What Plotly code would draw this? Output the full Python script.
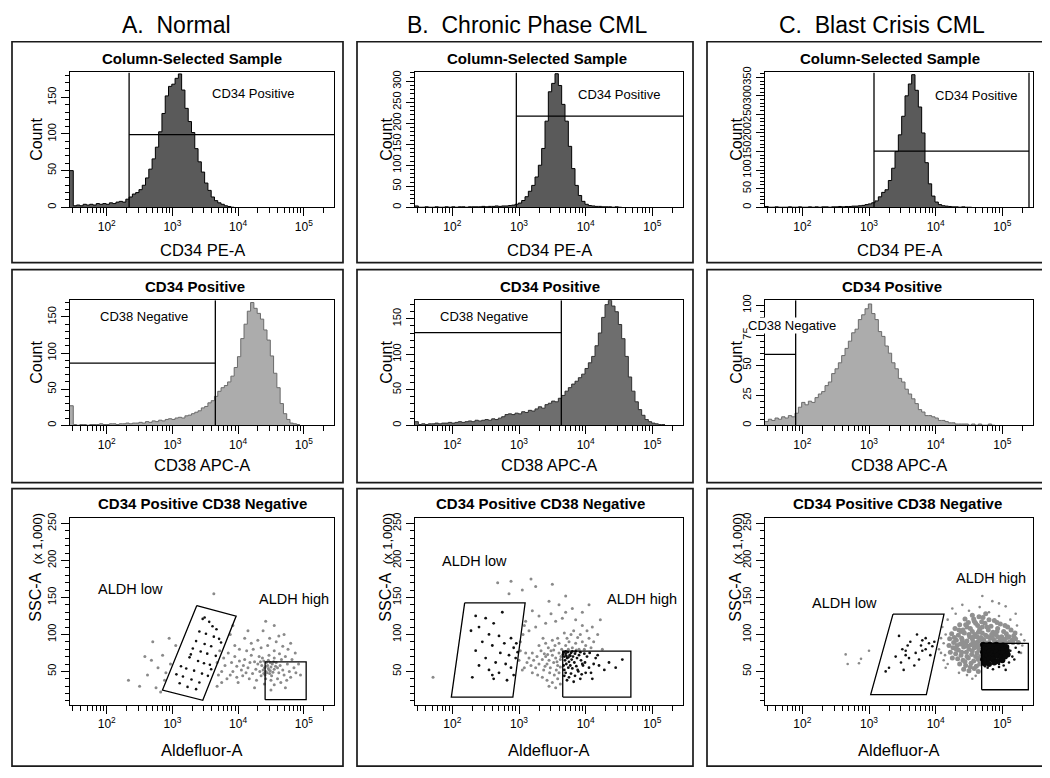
import plotly.graph_objects as go

# page is 1050x778; the html body has an 8px margin, so the figure is drawn 8px in
PAGE_OFF = 8
FIG_W, FIG_H = 1042, 770
FONT = "Liberation Sans, Arial, sans-serif"

# ---------------- histogram data (counts per channel) ----------------
HIST_START = 1.44      # log10 left edge of first channel
HIST_STEP = 0.05       # channel width in decades

a1_counts = [50, 2, 3, 2, 4, 3, 4, 3, 5, 4, 5, 4, 6, 5, 7, 8, 7, 11, 14, 18,
             20, 24, 30, 40, 52, 66, 82, 103, 128, 152, 165, 168, 176, 182, 160, 135, 117, 102, 80, 62,
             48, 33, 23, 14, 9, 6, 4, 2, 1, 0]
b1_counts = [3, 0, 0, 1, 0, 0, 1, 0, 0, 1, 0, 1, 0, 1, 1, 0, 1, 1, 1, 1, 2, 1, 2, 2, 3, 2, 3, 3,
             4, 5, 7, 10, 16, 25, 38, 52, 72, 100, 140, 205, 275, 295, 318, 290, 245, 205, 145, 92,
             52, 28, 14, 7, 4, 3, 2, 2, 1, 1, 1, 0, 1, 0]
c1_counts = [2, 0, 0, 1, 0, 0, 0, 1, 0, 0, 1, 0, 0, 1, 0, 1, 0, 1, 1, 0, 1, 1, 2, 1, 2, 2, 3, 3,
             4, 5, 7, 9, 12, 17, 28, 40, 47, 72, 105, 150, 195, 245, 300, 332, 357, 315, 270, 200,
             120, 63, 30, 14, 7, 4, 3, 2, 1, 1, 0, 1, 0, 0]
a2_counts = [27, 1, 0, 1, 1, 0, 1, 1, 1, 2, 1, 1, 2, 2, 1, 2, 2, 3, 2, 3,
             3, 4, 3, 5, 4, 6, 5, 7, 6, 8, 9, 8, 10, 11, 10, 13, 14, 16, 18, 20,
             24, 26, 31, 34, 40, 47, 52, 55, 60, 68, 80, 95, 120, 140, 158, 170, 162, 155, 147, 132,
             118, 96, 72, 52, 30, 16, 8, 3, 2, 1]
b2_counts = [5, 1, 2, 1, 2, 2, 3, 2, 3, 3, 4, 3, 4, 5, 4, 5, 6, 5, 7, 6,
             7, 8, 7, 9, 8, 10, 12, 15, 16, 15, 17, 16, 19, 18, 21, 20, 23, 26, 24, 29,
             31, 34, 33, 38, 42, 48, 53, 58, 62, 67, 72, 80, 88, 97, 112, 130, 152, 170, 176, 168,
             160, 142, 122, 97, 68, 48, 33, 22, 14, 8, 5, 3, 2, 1, 1]
c2_counts = [3, 5, 4, 6, 5, 7, 6, 8, 7, 10, 15, 19, 17, 20, 19, 23, 26, 28, 33, 36,
             43, 47, 52, 58, 64, 70, 77, 80, 88, 92, 97, 101, 93, 88, 78, 74, 66, 60, 52, 47,
             39, 36, 30, 26, 22, 18, 13, 11, 8, 8, 7, 6, 4, 4, 3, 2, 2, 1, 1, 1,
             1, 0, 1, 0, 1, 0, 0, 1, 0]

# ---------------- gates (log10 fluorescence, value) ----------------
a1_gate = {"x": 2.34, "y": 99}
b1_gate = {"x": 2.96, "y": 217}
c1_gate = {"x": 3.075, "y": 151, "x_right": 5.40}
a2_gate = {"x": 3.653, "y": 86}
b2_gate = {"x": 3.635, "y": 130.6}
c2_gate = {"x": 1.90, "y": 59}

a3_low = [(3.371, 139), (3.970, 124.8), (3.462, 10.9), (2.848, 24.8)]
a3_high = [(4.411, 11.7), (5.036, 63)]
b3_low = [(2.185, 142.6), (3.092, 142.6), (2.908, 15.2), (1.985, 15.2)]
b3_high = [(3.656, 15.2), (4.678, 77.4)]
c3_low = [(3.36, 127.4), (4.125, 127.4), (3.86, 18.7), (3.025, 18.7)]
c3_high = [(4.69, 25.2), (5.39, 87.8)]

# ---------------- scatter data (log10 Aldefluor-A, SSC-A x1000) ----------------
a3_gray = [
    (4.40, 55), (4.42, 50), (4.45, 58), (4.47, 52), (4.50, 56), (4.43, 62), (4.48, 47), (4.52, 60), (4.38, 52), (4.55, 53),
    (4.41, 45), (4.46, 65), (4.44, 48), (4.49, 62), (4.36, 58), (4.53, 49), (4.57, 57), (4.39, 64), (4.51, 44), (4.46, 54),
    (4.33, 50), (4.60, 55), (4.35, 44), (4.58, 62), (4.62, 48), (4.30, 60), (4.64, 58), (4.37, 68), (4.55, 68), (4.42, 40),
    (4.27, 53), (4.68, 52), (4.25, 63), (4.70, 45), (4.47, 72), (4.32, 70), (4.60, 40), (4.22, 47), (4.66, 66), (4.50, 38),
    (4.15, 55), (4.18, 62), (4.12, 48), (4.10, 66), (4.20, 72), (4.08, 58), (4.05, 52), (4.02, 64), (3.98, 57), (3.95, 70),
    (4.13, 78), (4.23, 80), (4.35, 82), (4.45, 85), (4.55, 78), (4.63, 74), (4.72, 70), (4.75, 60), (4.78, 50), (4.80, 42),
    (4.74, 38), (4.65, 35), (4.55, 32), (4.40, 33), (4.28, 38), (4.17, 40), (4.07, 44), (3.92, 50), (3.90, 62), (3.88, 45),
    (4.85, 55), (4.82, 66), (4.88, 48), (4.92, 60), (4.30, 92), (4.48, 95), (4.58, 90), (4.68, 84), (4.20, 88), (4.02, 80),
    (3.85, 75), (3.80, 58), (3.78, 68), (3.83, 40), (3.75, 50), (3.95, 85), (4.10, 95), (4.38, 105), (4.55, 112), (4.70, 100),
    (4.62, 98), (4.80, 88), (4.87, 75), (4.95, 45), (4.72, 28), (4.50, 25), (4.25, 28), (4.00, 35), (3.72, 78), (3.68, 62),
    (4.15, 105), (4.42, 118), (3.98, 42), (3.70, 45), (4.76, 80), (4.43, 57), (4.49, 51), (4.39, 47), (4.54, 63), (4.34, 63),
    (2.33, 38), (2.50, 30), (2.62, 45), (2.70, 90), (2.78, 55), (2.85, 72), (2.88, 38), (2.97, 60), (2.90, 48), (3.05, 85),
    (2.58, 70), (2.75, 28), (2.82, 22), (3.63, 155), (3.88, 100), (3.75, 35), (3.92, 112), (3.68, 30), (2.95, 95), (2.68, 65)]
a3_black = [
    (3.46, 121), (3.56, 117), (3.61, 111), (3.41, 104), (3.51, 101), (3.63, 97), (3.71, 94), (3.36, 91), (3.49, 87), (3.59, 84),
    (3.31, 81), (3.43, 77), (3.53, 74), (3.66, 71), (3.26, 69), (3.39, 64), (3.48, 61), (3.57, 59), (3.21, 54), (3.33, 51),
    (3.45, 47), (3.54, 44), (3.16, 43), (3.29, 39), (3.41, 35), (3.11, 34), (3.23, 29), (3.36, 26), (3.06, 46), (3.13, 57),
    (3.49, 123), (3.67, 107), (3.74, 89), (3.28, 73), (3.59, 53)]

b3_gray = [
    (3.40, 70), (3.45, 65), (3.50, 72), (3.55, 68), (3.60, 75), (3.42, 60), (3.48, 78), (3.52, 62), (3.58, 58), (3.62, 66),
    (3.35, 66), (3.38, 74), (3.44, 82), (3.54, 85), (3.60, 88), (3.64, 80), (3.30, 60), (3.33, 78), (3.47, 55), (3.56, 52),
    (3.62, 56), (3.27, 70), (3.25, 55), (3.22, 65), (3.40, 88), (3.50, 92), (3.58, 95), (3.63, 70), (3.37, 52), (3.46, 48),
    (3.53, 45), (3.60, 48), (3.20, 75), (3.18, 58), (3.15, 68), (3.12, 62), (3.10, 75), (3.08, 55), (3.30, 85), (3.36, 95),
    (3.70, 85), (3.75, 90), (3.80, 82), (3.85, 88), (3.90, 80), (3.72, 95), (3.78, 100), (3.88, 96), (3.95, 90), (4.00, 85),
    (3.68, 102), (3.82, 105), (3.92, 100), (4.05, 95), (3.74, 80), (3.86, 79), (3.98, 80), (4.08, 82), (4.12, 90), (4.02, 105),
    (3.35, 42), (3.42, 38), (3.50, 35), (3.58, 40), (3.28, 45), (3.20, 48), (3.62, 33), (3.45, 30), (3.55, 28), (3.05, 52),
    (3.00, 65), (3.02, 78), (3.02, 90), (3.06, 100), (3.15, 105), (3.25, 110), (3.40, 115), (3.55, 118), (3.65, 122), (3.85, 120),
    (3.95, 112), (4.10, 110), (4.18, 100), (4.22, 120), (4.25, 80), (3.70, 130), (3.48, 128), (3.30, 125), (3.10, 118),
    (3.60, 140), (3.80, 135), (3.95, 130), (4.05, 140), (3.45, 145), (3.20, 132), (3.70, 152), (2.85, 155), (3.05, 160), (3.25, 165),
    (2.68, 170), (2.88, 172), (3.18, 175), (3.50, 168), (3.08, 112), (1.71, 42), (3.43, 73), (3.52, 79), (3.57, 63), (3.39, 57)]
b3_black = [
    (2.35, 125), (2.50, 122), (2.62, 115), (2.40, 110), (2.28, 105), (2.55, 100), (2.70, 98), (2.88, 95), (2.45, 90), (2.78, 88),
    (2.60, 85), (2.92, 82), (2.35, 78), (2.72, 75), (2.85, 72), (2.50, 68), (2.95, 68), (2.65, 62), (2.80, 60), (2.40, 58),
    (2.88, 55), (2.55, 52), (2.70, 48), (2.92, 45), (2.30, 42), (2.62, 40), (2.82, 38), (2.96, 88), (2.98, 76), (2.75, 130),
    (2.60, 45),
    (3.67, 76), (3.70, 74), (3.73, 76), (3.76, 72), (3.68, 70), (3.72, 68), (3.78, 75), (3.81, 70), (3.69, 65), (3.75, 63),
    (3.84, 74), (3.87, 68), (3.79, 66), (3.71, 60), (3.67, 58), (3.77, 58), (3.83, 62), (3.90, 72), (3.93, 65), (3.74, 55),
    (3.68, 52), (3.80, 54), (3.86, 57), (3.96, 58), (3.70, 48), (3.78, 47), (3.89, 50), (3.99, 62), (4.02, 70), (4.05, 55),
    (3.68, 44), (3.75, 42), (3.84, 44), (3.94, 46), (4.08, 48), (3.72, 38), (3.82, 36), (3.92, 40), (4.12, 60), (4.15, 68),
    (3.66, 73), (3.71, 71), (3.74, 69), (3.77, 71), (3.70, 77), (3.80, 77), (3.85, 77), (3.92, 76), (3.98, 74), (4.06, 75),
    (4.20, 58), (4.28, 52), (4.35, 62), (4.45, 55), (4.00, 48), (4.10, 40), (4.18, 72), (4.55, 66), (3.95, 60), (3.88, 52)]

c3_gray_core = [
    (4.44, 121), (4.58, 118), (4.71, 123), (4.88, 119), (4.36, 113), (4.49, 116), (4.63, 112), (4.74, 115), (4.83, 111), (4.97, 114),
    (5.08, 110), (4.29, 108), (4.41, 106), (4.47, 110), (4.55, 104), (4.66, 107), (4.70, 102), (4.79, 106), (4.86, 103), (4.93, 108),
    (5.02, 104), (5.13, 106), (4.24, 101), (4.34, 99), (4.43, 102), (4.51, 97), (4.59, 100), (4.68, 96), (4.75, 99), (4.82, 95),
    (4.90, 100), (4.99, 97), (5.06, 101), (5.17, 98), (4.21, 94), (4.31, 92), (4.39, 95), (4.47, 91), (4.55, 94), (4.63, 90),
    (4.72, 93), (4.80, 89), (4.88, 92), (4.95, 90), (5.03, 93), (5.11, 90), (5.20, 94), (5.24, 89), (4.27, 89), (4.37, 87),
    (4.45, 88), (4.53, 86), (4.61, 88), (4.67, 85), (4.57, 97), (4.64, 103), (4.78, 97), (4.93, 97), (4.38, 104), (4.52, 108),
    (4.66, 92), (4.85, 96), (5.00, 88), (5.15, 92), (4.26, 82), (4.34, 79), (4.42, 83), (4.50, 80), (4.58, 82), (4.65, 79),
    (4.30, 74), (4.38, 72), (4.46, 76), (4.54, 73), (4.62, 75), (4.67, 70), (4.33, 67), (4.41, 65), (4.49, 68), (4.57, 64),
    (4.64, 66), (4.36, 60), (4.45, 58), (4.53, 61), (4.61, 57), (4.66, 60), (4.42, 53), (4.50, 51), (4.58, 54), (4.64, 50),
    (4.22, 76), (4.25, 68), (4.20, 85), (4.60, 115), (4.77, 110), (4.92, 104), (5.10, 97), (4.32, 85), (4.48, 84), (4.56, 90),
    (4.40, 92), (4.50, 100), (4.62, 97), (4.70, 110), (4.84, 100), (4.97, 93), (5.07, 96), (5.19, 102), (4.28, 96), (4.35, 106),
    (4.45, 113), (4.57, 121), (4.69, 117), (4.80, 120), (4.92, 116), (5.04, 112), (4.31, 80), (4.39, 76), (4.47, 70), (4.55, 78),
    (4.63, 83), (4.44, 63), (4.52, 56), (4.60, 70), (4.41, 87), (4.58, 87), (4.74, 89), (4.90, 89), (5.05, 89), (5.16, 89),
    (4.55, 126), (4.75, 128), (4.65, 124)]
c3_gray_sparse = [
    (4.47, 45), (4.60, 44), (4.15, 100), (4.12, 88), (4.10, 110), (4.18, 120), (4.30, 128), (4.50, 132), (4.66, 137), (4.80, 130),
    (4.95, 125), (5.12, 120), (5.22, 112), (5.28, 100), (5.30, 85), (4.70, 152), (4.85, 145), (4.40, 140), (5.05, 138), (4.95, 142),
    (4.25, 135), (5.20, 128), (4.14, 72), (4.18, 60), (4.35, 48), (4.55, 40), (5.28, 75), (5.33, 92), (4.08, 95), (4.05, 80),
    (4.12, 65), (4.15, 55), (4.08, 75), (2.65, 73), (2.85, 61), (2.88, 67), (2.68, 60), (3.00, 78)]
c3_black_core = [
    (4.71, 86), (4.76, 85), (4.81, 86), (4.86, 85), (4.91, 86), (4.96, 84), (5.01, 85), (5.06, 83),
    (4.72, 81), (4.77, 80), (4.82, 82), (4.87, 80), (4.92, 81), (4.97, 79), (5.02, 80), (5.07, 78),
    (4.71, 76), (4.76, 75), (4.81, 77), (4.86, 75), (4.91, 76), (4.96, 74), (5.01, 75), (5.08, 73),
    (4.72, 71), (4.77, 70), (4.82, 72), (4.87, 70), (4.92, 71), (4.98, 69), (5.04, 70),
    (4.71, 66), (4.76, 65), (4.81, 67), (4.86, 66), (4.93, 64), (5.00, 65), (4.73, 61), (4.80, 60), (4.88, 62)]
c3_black_sparse = [
    (4.95, 60), (5.12, 78), (5.15, 70), (5.20, 82), (5.25, 76), (5.10, 62), (4.78, 55), (4.86, 53), (4.95, 56), (5.02, 58),
    (4.74, 57), (5.18, 66), (5.05, 52),
    (3.45, 98), (3.72, 100), (3.80, 92), (3.90, 88), (3.95, 84), (3.62, 90), (3.85, 80), (3.55, 78), (3.70, 75), (3.92, 72),
    (3.40, 70), (3.60, 68), (3.75, 66), (3.48, 62), (3.68, 58), (3.30, 55), (3.52, 52), (3.85, 95), (3.98, 90), (3.78, 85),
    (3.25, 50), (3.58, 85), (3.55, 72), (3.50, 80), (3.80, 78)]

# ---------------- text ----------------
col_titles = ["A.\u00a0\u00a0Normal", "B.\u00a0\u00a0Chronic Phase CML", "C.\u00a0\u00a0Blast Crisis CML"]
row_titles = ["Column-Selected Sample", "CD34 Positive", "CD34 Positive CD38 Negative"]
x_titles = ["CD34 PE-A", "CD38 APC-A", "Aldefluor-A"]
hist_gate_labels = ["CD34 Positive", "CD38 Negative"]

# ---------------- layout geometry (page pixels) ----------------
COL_PX = [(70, 334), (415, 683), (765, 1033)]
ROW_PX = [(67, 203), (297, 423), (517, 705)]
FRAME_COL = [(12, 343), (357, 693), (707, 1043)]
FRAME_ROW = [(36, 259), (266, 481), (487, 767)]
X_LOG = [1.44, 5.46]

y_ranges = [[0, 184], [0, 321], [0, 363],
            [0, 173], [0, 176], [0, 104],
            [5, 257], [5, 257], [5, 257]]
y_dticks = [(50, 10), (50, 10), (50, 10),
            (50, 10), (50, 10), (25, 5),
            (50, 10), (50, 10), (50, 10)]

fig = go.Figure()


def ax_names(k):
    return ("x" if k == 0 else f"x{k + 1}"), ("y" if k == 0 else f"y{k + 1}")


def pxx(x):
    return (x - PAGE_OFF) / FIG_W


def pxy(y):
    return 1 - (y - PAGE_OFF) / FIG_H


def hist_trace(counts, k, fill, line):
    xa, ya = ax_names(k)
    xs = [10 ** (HIST_START + i * HIST_STEP) for i in range(len(counts) + 1)]
    ys = list(counts) + [counts[-1]]
    return go.Scatter(x=xs, y=ys, mode="lines", line=dict(shape="hv", color=line, width=1),
                      fill="tozeroy", fillcolor=fill, xaxis=xa, yaxis=ya,
                      hoverinfo="skip", showlegend=False)


def path_trace(segments, k, width=1.3):
    xa, ya = ax_names(k)
    xs, ys = [], []
    for seg in segments:
        for lx, yv in seg:
            xs.append(10 ** lx)
            ys.append(yv)
        xs.append(None)
        ys.append(None)
    return go.Scatter(x=xs, y=ys, mode="lines", line=dict(color="black", width=width),
                      xaxis=xa, yaxis=ya, hoverinfo="skip", showlegend=False)


def dots(points, k, color, size):
    xa, ya = ax_names(k)
    return go.Scatter(x=[10 ** p[0] for p in points], y=[p[1] for p in points], mode="markers",
                      marker=dict(color=color, size=size, line=dict(width=0)),
                      xaxis=xa, yaxis=ya, hoverinfo="skip", showlegend=False)


DARK_FILL, DARK_LINE = "#5a5a5a", "#000000"
LIGHT_FILL, LIGHT_LINE = "#acacac", "#6a6a6a"
MID_FILL, MID_LINE = "#6e6e6e", "#303030"

# row 1 histograms
for k, counts, gate, top in [(0, a1_counts, a1_gate, 184), (1, b1_counts, b1_gate, 321), (2, c1_counts, c1_gate, 363)]:
    fig.add_trace(hist_trace(counts, k, DARK_FILL, DARK_LINE))
    xr = gate.get("x_right", X_LOG[1])
    segs = [[(gate["x"], 0), (gate["x"], top)], [(gate["x"], gate["y"]), (xr, gate["y"])]]
    if "x_right" in gate:
        segs.append([(xr, 0), (xr, top)])
    fig.add_trace(path_trace(segs, k))

# row 2 histograms
for k, counts, gate, top, fill, line in [(3, a2_counts, a2_gate, 173, LIGHT_FILL, LIGHT_LINE),
                                        (4, b2_counts, b2_gate, 176, MID_FILL, MID_LINE),
                                        (5, c2_counts, c2_gate, 104, LIGHT_FILL, LIGHT_LINE)]:
    fig.add_trace(hist_trace(counts, k, fill, line))
    segs = [[(gate["x"], 0), (gate["x"], top)], [(X_LOG[0], gate["y"]), (gate["x"], gate["y"])]]
    fig.add_trace(path_trace(segs, k))

# row 3 dot plots
GRAY = "#8a8a8a"
fig.add_trace(dots(a3_gray, 6, GRAY, 3))
fig.add_trace(dots(a3_black, 6, "#111111", 2.6))
fig.add_trace(dots(b3_gray, 7, GRAY, 3))
fig.add_trace(dots(b3_black, 7, "#111111", 2.8))
fig.add_trace(dots(c3_gray_core, 8, "#909090", 5))
fig.add_trace(dots(c3_gray_sparse, 8, GRAY, 2.6))
fig.add_trace(dots(c3_black_core, 8, "#0a0a0a", 6))
fig.add_trace(dots(c3_black_sparse, 8, "#111111", 2.6))


def rect_seg(r):
    (x0, y0), (x1, y1) = r
    return [[(x0, y0), (x1, y0), (x1, y1), (x0, y1), (x0, y0)]]


for k, low, high in [(6, a3_low, a3_high), (7, b3_low, b3_high), (8, c3_low, c3_high)]:
    fig.add_trace(path_trace([low + [low[0]]] + rect_seg(high), k))

# ---------------- axes ----------------
minor_x = [d * 10 ** e for e in range(1, 6) for d in range(2, 10) if 10 ** X_LOG[0] < d * 10 ** e < 10 ** X_LOG[1]]
layout_axes = {}
for k in range(9):
    r, c = divmod(k, 3)
    xa, ya = ax_names(k)
    x0, x1 = COL_PX[c]
    y0, y1 = ROW_PX[r]
    dt, mdt = y_dticks[k]
    layout_axes["xaxis" if k == 0 else f"xaxis{k + 1}"] = dict(
        domain=[pxx(x0), pxx(x1)], anchor=ya, type="log", range=X_LOG,
        tickmode="array", tickvals=[1e2, 1e3, 1e4, 1e5],
        ticktext=["10<sup>2</sup>", "10<sup>3</sup>", "10<sup>4</sup>", "10<sup>5</sup>"],
        ticks="outside", ticklen=8, tickwidth=1, tickcolor="black",
        minor=dict(tickmode="array", tickvals=minor_x, ticks="outside", ticklen=5,
                   tickwidth=1, tickcolor="black", showgrid=False),
        showline=True, linewidth=1.4, linecolor="black", mirror=True,
        showgrid=False, zeroline=False, fixedrange=True,
        tickfont=dict(family=FONT, size=12, color="black"))
    layout_axes["yaxis" if k == 0 else f"yaxis{k + 1}"] = dict(
        domain=[pxy(y1), pxy(y0)], anchor=xa, range=y_ranges[k],
        tickmode="linear", tick0=0, dtick=dt, tickangle=-90,
        ticks="outside", ticklen=8, tickwidth=1, tickcolor="black",
        minor=dict(tick0=0, dtick=mdt, ticks="outside", ticklen=4, tickwidth=1,
                   tickcolor="black", showgrid=False),
        showline=True, linewidth=1.4, linecolor="black", mirror=True,
        showgrid=False, zeroline=False, fixedrange=True,
        tickfont=dict(family=FONT, size=11, color="black"))

# ---------------- frames ----------------
shapes = []
for (fx0, fx1) in FRAME_COL:
    for (fy0, fy1) in FRAME_ROW:
        shapes.append(dict(type="rect", xref="paper", yref="paper",
                           x0=pxx(fx0), x1=pxx(fx1), y0=pxy(fy1), y1=pxy(fy0),
                           line=dict(color="#1a1a1a", width=1.7), layer="below"))

# ---------------- annotations ----------------
ann = []


def text(x, y, s, size, bold=False, angle=0, bg=None):
    d = dict(x=pxx(x), y=pxy(y), xref="paper", yref="paper", text=(f"<b>{s}</b>" if bold else s),
             showarrow=False, xanchor="center", yanchor="middle", textangle=angle,
             font=dict(family=FONT, size=size, color="black"))
    if bg:
        d.update(bgcolor=bg, borderpad=0)
    ann.append(d)


for c, (cx, t) in enumerate(zip([176, 527, 882], col_titles)):
    text(cx, 19, t, 23)
row_title_x = [[192, 537, 890], [195, 550, 892], [202, 540, 897]]
row_title_y = [53, 283, 502]
x_title_y = [246, 463, 751]
for r in range(3):
    for c in range(3):
        text(row_title_x[r][c], row_title_y[r], row_titles[r], 15, bold=True)
        text((COL_PX[c][0] + COL_PX[c][1]) / 2, x_title_y[r], x_titles[r], 16.5)
        ycx = [37, 387, 737][c]
        if r < 2:
            text(ycx, (ROW_PX[r][0] + ROW_PX[r][1]) / 2, "Count", 16, angle=-90)
        else:
            text(ycx - 1, 597, "SSC-A", 16, angle=-90)
            text(ycx, 538, "(x 1,000)", 13, angle=-90)


def data_label(k, lx, yv, s, size):
    xa, ya = ax_names(k)
    ann.append(dict(x=lx, y=yv, xref=xa, yref=ya, text=s, showarrow=False,
                    xanchor="center", yanchor="middle",
                    font=dict(family=FONT, size=size, color="black")))


data_label(0, 4.23, 155, hist_gate_labels[0], 13)
data_label(1, 4.50, 269, hist_gate_labels[0], 13)
data_label(2, 4.60, 302, hist_gate_labels[0], 13)
data_label(3, 2.56, 150, hist_gate_labels[1], 13)
data_label(4, 2.475, 153, hist_gate_labels[1], 13)
text(792, 322, hist_gate_labels[1], 13, bg="white")
data_label(6, 2.355, 161, "ALDH low", 14.5)
data_label(6, 4.853, 148, "ALDH high", 14.5)
data_label(7, 2.33, 199, "ALDH low", 14.5)
data_label(7, 4.85, 148, "ALDH high", 14.5)
data_label(8, 2.625, 143, "ALDH low", 14.5)
data_label(8, 4.825, 177, "ALDH high", 14.5)

fig.update_layout(width=FIG_W, height=FIG_H, margin=dict(l=0, r=0, t=0, b=0),
                  paper_bgcolor="white", plot_bgcolor="white", showlegend=False,
                  shapes=shapes, annotations=ann, font=dict(family=FONT, color="black"),
                  **layout_axes)

fig.write_html("out.html", config={"displayModeBar": False})
